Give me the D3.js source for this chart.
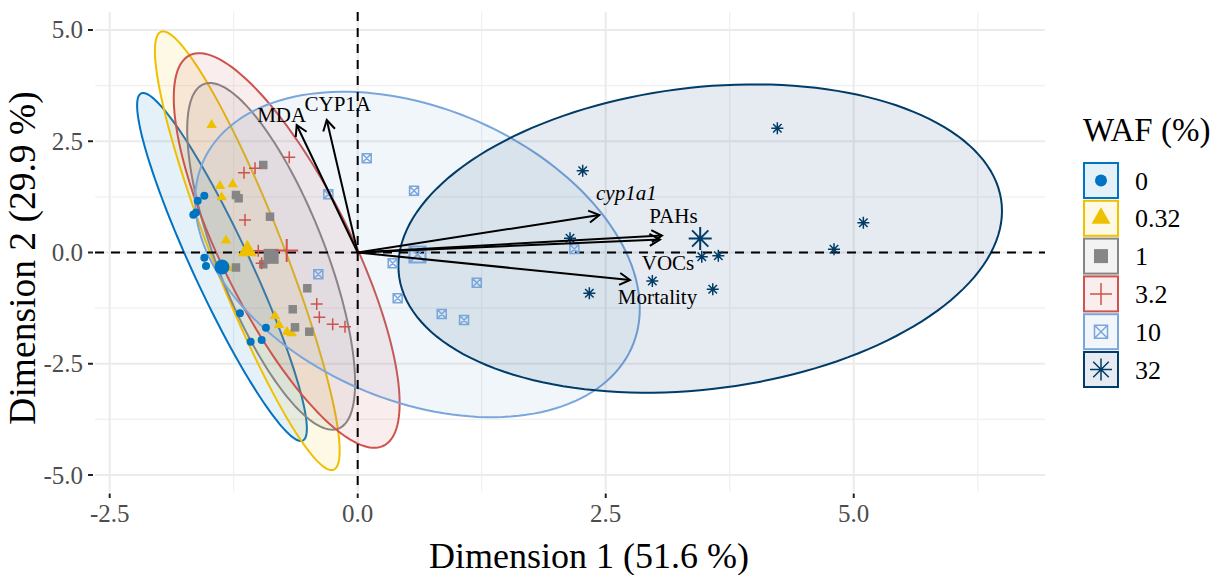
<!DOCTYPE html>
<html>
<head>
<meta charset="utf-8">
<script src="https://cdn.jsdelivr.net/npm/d3@7"></script>
<style>
  body { margin: 0; background: #fff; }
  text { font-family: "Liberation Serif", "Times New Roman", serif; }
</style>
</head>
<body>
<svg id="chart" width="1212" height="575"></svg>
<script>
// ---- data ---------------------------------------------------------------
const groups = ["0", "0.32", "1", "3.2", "10", "32"];
const groupColors = ["#0073C2", "#EFC000", "#868686", "#CD534C", "#7AA6DC", "#003C67"];
const groupShapes = ["circle", "triangle", "square", "plus", "squareX", "asterisk"];

// individual coordinates [Dim1, Dim2] for each WAF concentration
const waf0 = [[-1.546, 1.276], [-1.613, 1.164], [-1.657, 0.849], [-1.63, 0.90], [-1.546, -0.117],
              [-1.529, -0.303], [-1.187, -1.366], [-0.925, -1.690], [-1.079, -2.004], [-0.968, -1.966]];
const waf032 = [[-1.472, 2.865], [-1.388, 1.494], [-1.260, 1.533], [-1.371, 1.240], [-1.328, 0.270],
                [-1.305, -0.350], [-0.834, -1.427], [-0.793, -1.629], [-0.665, -1.816], [-0.713, -1.787]];
const waf1 = [[-0.952, 1.966], [-1.227, 1.292], [-1.200, 1.218], [-0.884, 0.804], [-1.227, -0.337],
              [-0.952, -0.265], [-0.508, -0.804], [-0.655, -1.276], [-0.632, -1.681], [-0.488, -1.780]];
const waf32x = [[-0.690, 2.139], [-1.146, 1.793], [-1.035, 1.892], [-1.136, 0.730], [-1.002, 0.040],
                [-0.968, -0.243], [-0.413, -1.157], [-0.387, -1.456], [-0.252, -1.613], [-0.128, -1.667]];
const waf10 = [[0.091, 2.117], [0.568, 1.389], [-0.296, 1.308], [-0.397, -0.490], [0.353, -0.243],
               [0.403, -1.029], [1.200, -0.679], [0.847, -1.382], [1.072, -1.517], [2.184, 0.079]];
const waf320 = [[2.268, 1.838], [2.140, 0.319], [2.335, -0.917], [2.970, -0.640], [3.468, -0.094],
                [3.635, -0.072], [3.579, -0.827], [4.230, 2.791], [4.801, 0.072], [5.097, 0.670]];
const groupScores = [waf0, waf032, waf1, waf32x, waf10, waf320];

// variable loadings (arrows)
const varNames = ["MDA", "CYP1A", "cyp1a1", "PAHs", "VOCs", "Mortality"];
const varDim1 = [-0.615, -0.312, 2.436, 3.067, 3.047, 2.745];
const varDim2 = [2.865, 2.978, 0.843, 0.382, 0.292, -0.618];

// axes
const xTicks = [-2.5, 0, 2.5, 5];
const xTickLabels = ["-2.5", "0.0", "2.5", "5.0"];
const yTicks = [-5, -2.5, 0, 2.5, 5];
const yTickLabels = ["-5.0", "-2.5", "0.0", "2.5", "5.0"];
const xMinor = [-1.25, 1.25, 3.75, 6.25];
const yMinor = [-3.75, -1.25, 1.25, 3.75];
const xTitle = "Dimension 1 (51.6 %)";
const yTitle = "Dimension 2 (29.9 %)";
const legendTitle = "WAF (%)";

// ---- layout -------------------------------------------------------------
const panel = { left: 95, right: 1045, top: 12, bottom: 491.7 };
const x = d3.scaleLinear().domain([-2.648, 6.928]).range([panel.left, panel.right]);
const y = d3.scaleLinear().domain([-5.375, 5.404]).range([panel.bottom, panel.top]);

// label placement relative to the arrow tip, in pixels (dx, baseline dy)
const labelNudge = [[-15, -3], [11, -8.5], [27, -15], [11.5, -12.5], [8, 30.5], [27.5, 24]];
const labelItalic = [false, false, true, false, false, false];

const svg = d3.select("#chart");

// ---- grid ---------------------------------------------------------------
const grid = svg.append("g");
grid.selectAll(".vmin").data(xMinor).join("line")
  .attr("x1", d => x(d)).attr("x2", d => x(d)).attr("y1", panel.top).attr("y2", panel.bottom)
  .attr("stroke", "#f0f0f0").attr("stroke-width", 1.2);
grid.selectAll(".hmin").data(yMinor).join("line")
  .attr("y1", d => y(d)).attr("y2", d => y(d)).attr("x1", panel.left).attr("x2", panel.right)
  .attr("stroke", "#f0f0f0").attr("stroke-width", 1.2);
grid.selectAll(".vmaj").data(xTicks).join("line")
  .attr("x1", d => x(d)).attr("x2", d => x(d)).attr("y1", panel.top).attr("y2", panel.bottom)
  .attr("stroke", "#ebebeb").attr("stroke-width", 2);
grid.selectAll(".hmaj").data(yTicks).join("line")
  .attr("y1", d => y(d)).attr("y2", d => y(d)).attr("x1", panel.left).attr("x2", panel.right)
  .attr("stroke", "#ebebeb").attr("stroke-width", 2);

// ---- 95% normal data ellipses (same construction as stat_ellipse) -------
function qf2(p, d) { return (d / 2) * (Math.pow(1 - p, -2 / d) - 1); }
function dataEllipse(pts, level, segments) {
  const n = pts.length;
  const mx = d3.mean(pts, p => p[0]), my = d3.mean(pts, p => p[1]);
  let sxx = 0, syy = 0, sxy = 0;
  pts.forEach(p => { const dx = p[0] - mx, dy = p[1] - my; sxx += dx * dx; syy += dy * dy; sxy += dx * dy; });
  sxx /= n - 1; syy /= n - 1; sxy /= n - 1;
  const a = Math.sqrt(sxx), b = sxy / a, c = Math.sqrt(syy - b * b);
  const r = Math.sqrt(2 * qf2(level, n - 1));
  return d3.range(segments).map(i => {
    const t = 2 * Math.PI * i / segments;
    const u = Math.cos(t), v = Math.sin(t);
    return [mx + r * u * a, my + r * (u * b + v * c)];
  });
}
const ellLine = d3.line().x(d => x(d[0])).y(d => y(d[1])).curve(d3.curveLinearClosed);
const ellG = svg.append("g");
groupScores.forEach((pts, i) => {
  ellG.append("path")
    .attr("d", ellLine(dataEllipse(pts, 0.95, 160)))
    .attr("fill", groupColors[i]).attr("fill-opacity", 0.1)
    .attr("stroke", groupColors[i]).attr("stroke-width", 2);
});

// ---- reference lines at zero ---------------------------------------------
svg.append("line").attr("x1", panel.left).attr("x2", panel.right).attr("y1", y(0)).attr("y2", y(0))
  .attr("stroke", "#000").attr("stroke-width", 2).attr("stroke-dasharray", "9,7");
svg.append("line").attr("x1", x(0)).attr("x2", x(0)).attr("y1", panel.top).attr("y2", panel.bottom)
  .attr("stroke", "#000").attr("stroke-width", 2).attr("stroke-dasharray", "9,7");

// ---- point symbols --------------------------------------------------------
function shapePath(shape, s) {
  const h = s / 2;
  switch (shape) {
    case "circle": return `M${h},0A${h},${h} 0 1,1 ${-h},0A${h},${h} 0 1,1 ${h},0Z`;
    case "triangle": { const t = s * 0.866; return `M0,${-2 * t / 3}L${h},${t / 3}L${-h},${t / 3}Z`; }
    case "square": return `M${-h},${-h}H${h}V${h}H${-h}Z`;
    case "plus": return `M${-h},0H${h}M0,${-h}V${h}`;
    case "squareX": return `M${-h},${-h}H${h}V${h}H${-h}ZM${-h},${-h}L${h},${h}M${h},${-h}L${-h},${h}`;
    case "asterisk": { const k = h * 0.7071; return `M${-h},0H${h}M0,${-h}V${h}M${-k},${-k}L${k},${k}M${k},${-k}L${-k},${k}`; }
  }
}
const filled = { circle: true, triangle: true, square: true };
const smallSize = { circle: 8, triangle: 10.5, square: 8.5, plus: 12, squareX: 9, asterisk: 12 };
const meanSize = { circle: 15, triangle: 19, square: 15, plus: 23, squareX: 16, asterisk: 23 };
const legendSize = { circle: 12, triangle: 19, square: 14, plus: 22, squareX: 13, asterisk: 22 };

function drawSymbol(g, shape, color, size, cx, cy, sw) {
  const p = g.append("path").attr("d", shapePath(shape, size))
    .attr("transform", `translate(${cx},${cy})`);
  if (filled[shape]) p.attr("fill", color).attr("stroke", "none");
  else p.attr("fill", "none").attr("stroke", color).attr("stroke-width", sw);
}

const ptsG = svg.append("g");
groupScores.forEach((pts, i) => {
  pts.forEach(p => drawSymbol(ptsG, groupShapes[i], groupColors[i], smallSize[groupShapes[i]], x(p[0]), y(p[1]), 1.5));
});
// group centroids
groupScores.forEach((pts, i) => {
  const mx = d3.mean(pts, p => p[0]), my = d3.mean(pts, p => p[1]);
  drawSymbol(ptsG, groupShapes[i], groupColors[i], meanSize[groupShapes[i]], x(mx), y(my), 2);
});

// ---- variable arrows -------------------------------------------------------
const arrG = svg.append("g");
varNames.forEach((name, i) => {
  const x0 = x(0), y0 = y(0), x1 = x(varDim1[i]), y1 = y(varDim2[i]);
  const ang = Math.atan2(y1 - y0, x1 - x0);
  const L = 12, spread = Math.PI / 6;
  arrG.append("line").attr("x1", x0).attr("y1", y0).attr("x2", x1).attr("y2", y1)
    .attr("stroke", "#000").attr("stroke-width", 2);
  arrG.append("path")
    .attr("d", `M${x1 - L * Math.cos(ang - spread)},${y1 - L * Math.sin(ang - spread)}L${x1},${y1}L${x1 - L * Math.cos(ang + spread)},${y1 - L * Math.sin(ang + spread)}`)
    .attr("fill", "none").attr("stroke", "#000").attr("stroke-width", 2)
    .attr("stroke-linejoin", "miter");
  arrG.append("text")
    .attr("x", x1 + labelNudge[i][0]).attr("y", y1 + labelNudge[i][1])
    .attr("text-anchor", "middle").attr("font-size", 21)
    .attr("font-style", labelItalic[i] ? "italic" : "normal")
    .attr("fill", "#000").text(name);
});

// ---- axes -------------------------------------------------------------------
const axG = svg.append("g");
axG.selectAll(".xt").data(xTicks).join("line")
  .attr("x1", d => x(d)).attr("x2", d => x(d)).attr("y1", 493.5).attr("y2", 498)
  .attr("stroke", "#222").attr("stroke-width", 2);
axG.selectAll(".xl").data(xTicks).join("text")
  .attr("x", d => x(d)).attr("y", 521.5).attr("text-anchor", "middle")
  .attr("font-size", 25).attr("fill", "#4d4d4d").text((d, i) => xTickLabels[i]);
axG.selectAll(".yt").data(yTicks).join("line")
  .attr("x1", 88).attr("x2", 93).attr("y1", d => y(d)).attr("y2", d => y(d))
  .attr("stroke", "#222").attr("stroke-width", 2);
axG.selectAll(".yl").data(yTicks).join("text")
  .attr("x", 83).attr("y", d => y(d)).attr("dy", "0.34em").attr("text-anchor", "end")
  .attr("font-size", 25).attr("fill", "#4d4d4d").text((d, i) => yTickLabels[i]);

axG.append("text").attr("x", 589).attr("y", 568).attr("text-anchor", "middle")
  .attr("font-size", 36).attr("fill", "#000").text(xTitle);
axG.append("text").attr("transform", "translate(35,258) rotate(-90)").attr("text-anchor", "middle")
  .attr("font-size", 37.5).attr("fill", "#000").text(yTitle);

// ---- legend -------------------------------------------------------------------
const lg = svg.append("g");
lg.append("text").attr("x", 1083).attr("y", 141).attr("font-size", 33).attr("fill", "#000").text(legendTitle);
groups.forEach((g, i) => {
  const cy = 180.5 + i * 37.8;
  lg.append("rect").attr("x", 1084).attr("y", cy - 17.5).attr("width", 34).attr("height", 35)
    .attr("fill", groupColors[i]).attr("fill-opacity", 0.1)
    .attr("stroke", groupColors[i]).attr("stroke-width", 2);
  drawSymbol(lg, groupShapes[i], groupColors[i], legendSize[groupShapes[i]], 1101, cy, 1.5);
  lg.append("text").attr("x", 1135).attr("y", cy).attr("dy", "0.35em")
    .attr("font-size", 26).attr("fill", "#000").text(g);
});
</script>
</body>
</html>
